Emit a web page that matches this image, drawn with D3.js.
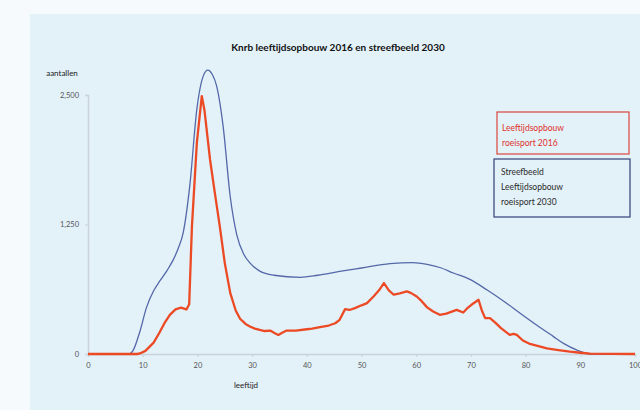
<!DOCTYPE html>
<html>
<head>
<meta charset="utf-8">
<script src="https://cdn.jsdelivr.net/npm/d3@7"></script>
<style>
  body { margin: 0; background: #f6fafd; }
  svg { display: block; }
</style>
</head>
<body>
<div id="chart"></div>
<script>
// leeftijdsopbouw roeisport 2016 (red, jagged)
const ages2016 = [0, 9, 9.5, 10.5, 12, 13, 14, 15, 16, 17, 18, 18.5, 19, 19.9, 20.8, 21.3, 22.3, 23.2, 24.1, 25, 26, 27, 27.8, 28.8, 29.6,
  30.5, 31.4, 32.3, 33.3, 34, 34.8, 35.5, 36.3, 38, 40, 41, 42.4, 44, 45.2, 46, 47, 47.8, 48.8, 50, 51, 52.2, 53.2, 54.1, 55, 55.9,
  57, 58.3, 59, 60.1, 61, 62, 63.1, 64.3, 65.5, 67.4, 68.6, 69.3, 70.1, 71.4, 72, 72.6, 73.5, 74.5, 75.5, 77.1, 77.8, 78.4, 79.5,
  80.8, 82, 83.9, 86, 88.1, 90, 91.8, 100];
const values2016 = [0, 0, 5, 30, 110, 200, 300, 380, 430, 448, 430, 480, 1230, 2040, 2490, 2350, 1880, 1550, 1230, 880, 590, 420, 340, 290, 265,
  245, 232, 222, 226, 205, 184, 205, 226, 225, 239, 245, 259, 275, 297, 330, 433, 425, 443, 470, 491, 555, 615, 685, 615, 572,
  585, 604, 590, 555, 510, 450, 410, 378, 390, 426, 400, 440, 475, 523, 420, 346, 346, 300, 250, 184, 195, 184, 130,
  97, 80, 55, 38, 22, 12, 3, 0];

// streefbeeld 2030 (blue, smooth)
const ages2030 = [0, 7.5, 8.3, 9.5, 10.7, 12, 13.2, 14.5, 15.6, 16.5, 17.4, 18.6, 19.9, 21.1, 21.9, 22.7, 23.5, 24.7, 26, 27.2, 28.5, 29.6,
  31.4, 34, 38.8, 42, 46, 50, 55.2, 59.4, 62, 64.3, 66.8, 70, 72.9, 76, 79, 82, 85.1, 87, 89.3, 91.8, 100];
const values2030 = [0, 0, 40, 220, 450, 610, 710, 810, 911, 1020, 1170, 1620, 2364, 2687, 2740, 2700, 2590, 2200, 1520, 1150, 960, 880,
  800, 760, 740, 760, 797, 830, 872, 882, 865, 835, 782, 715, 620, 510, 394, 280, 168, 100, 40, 0, 0];

const xTicks = [0, 10, 20, 30, 40, 50, 60, 70, 80, 90, 100];
const yTicks = [0, 1250, 2500];
const legendLabels2016 = ["Leeftijdsopbouw", "roeisport 2016"];
const legendLabels2030 = ["Streefbeeld", "Leeftijdsopbouw", "roeisport 2030"];

const width = 640, height = 410;
const font = "Lato, 'Open Sans', sans-serif";

const svg = d3.select("#chart").append("svg")
    .attr("width", width)
    .attr("height", height);

// light blue panel
svg.append("rect")
    .attr("x", 30).attr("y", 14)
    .attr("width", width - 30).attr("height", height - 14)
    .attr("fill", "#e3f1f9");

const x = d3.scaleLinear().domain([0, 100]).range([88, 635]);
const y = d3.scaleLinear().domain([0, 2500]).range([354, 95]);

// axes
const xAxis = svg.append("g")
    .attr("transform", `translate(0,${y(0)})`)
    .call(d3.axisBottom(x).tickValues(xTicks).tickSize(3).tickPadding(6));
xAxis.select(".domain").attr("stroke", "#c9d3da").attr("stroke-width", 1.5);
xAxis.selectAll(".tick line").attr("stroke", "#c9d3da");
xAxis.selectAll("text").attr("fill", "#555").style("font-family", font).style("font-size", "7.5px");

const yAxis = svg.append("g")
    .attr("transform", `translate(${x(0)},0)`)
    .call(d3.axisLeft(y).tickValues(yTicks).tickSize(3).tickPadding(6).tickFormat(d3.format(",")));
yAxis.select(".domain").attr("stroke", "#c9d3da").attr("stroke-width", 1.5);
yAxis.selectAll(".tick line").attr("stroke", "#c9d3da");
yAxis.selectAll("text").attr("fill", "#555").style("font-family", font).style("font-size", "7.5px");

// lines
const line = d3.line()
    .x(d => x(d[0]))
    .y(d => y(d[1]));

svg.append("path")
    .datum(d3.zip(ages2030, values2030))
    .attr("fill", "none")
    .attr("stroke", "#5468a8")
    .attr("stroke-width", 1.3)
    .attr("d", line.curve(d3.curveMonotoneX));

svg.append("path")
    .datum(d3.zip(ages2016, values2016))
    .attr("fill", "none")
    .attr("stroke", "#ec4a25")
    .attr("stroke-width", 2.3)
    .attr("stroke-linejoin", "round")
    .attr("d", line.curve(d3.curveLinear));

// titles
svg.append("text")
    .attr("x", 338).attr("y", 51)
    .attr("text-anchor", "middle")
    .style("font-family", font)
    .style("font-weight", "bold")
    .style("font-size", "10px")
    .attr("fill", "#111")
    .text("Knrb leeftijdsopbouw 2016 en streefbeeld 2030");

svg.append("text")
    .attr("x", 62).attr("y", 76)
    .attr("text-anchor", "middle")
    .style("font-family", font)
    .style("font-size", "8px")
    .attr("fill", "#222")
    .text("aantallen");

svg.append("text")
    .attr("x", 246).attr("y", 388)
    .attr("text-anchor", "middle")
    .style("font-family", font)
    .style("font-size", "8px")
    .attr("fill", "#222")
    .text("leeftijd");

// legend boxes
const leg1 = svg.append("g");
leg1.append("rect")
    .attr("x", 497).attr("y", 112).attr("width", 132).attr("height", 42)
    .attr("fill", "#e3f1f9").attr("stroke", "#d9463c").attr("stroke-width", 1.2);
leg1.selectAll("text").data(legendLabels2016).join("text")
    .attr("x", 502).attr("y", (d, i) => 131 + i * 15)
    .style("font-family", font).style("font-size", "8.5px")
    .attr("fill", "#e0302a")
    .text(d => d);

const leg2 = svg.append("g");
leg2.append("rect")
    .attr("x", 494).attr("y", 159).attr("width", 136).attr("height", 58)
    .attr("fill", "#e3f1f9").attr("stroke", "#34427a").attr("stroke-width", 1.2);
leg2.selectAll("text").data(legendLabels2030).join("text")
    .attr("x", 501).attr("y", (d, i) => 175 + i * 15)
    .style("font-family", font).style("font-size", "8.5px")
    .attr("fill", "#2a2a2a")
    .text(d => d);
</script>
</body>
</html>
